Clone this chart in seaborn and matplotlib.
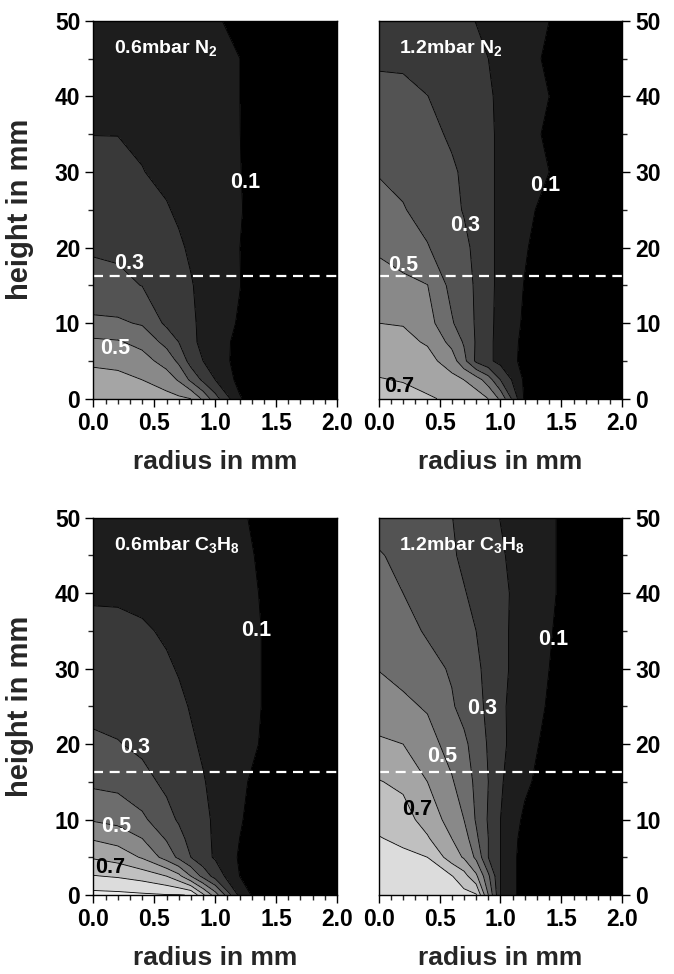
import numpy as np
import matplotlib
matplotlib.use("Agg")
import matplotlib.pyplot as plt
import seaborn as sns
from matplotlib.ticker import MultipleLocator, FormatStrFormatter

sns.set_style("ticks")
plt.rcParams['font.family'] = ['Liberation Sans', 'DejaVu Sans']
plt.rcParams['font.weight'] = 'bold'
plt.rcParams['mathtext.fontset'] = 'custom'
plt.rcParams['mathtext.rm'] = 'Liberation Sans:bold'
plt.rcParams['mathtext.bf'] = 'Liberation Sans:bold'

# grid: radius (mm) columns, height (mm) rows
radius = [0, 0.2, 0.4, 0.6, 0.7, 0.8, 0.9, 1.0, 1.2, 1.4, 1.6, 2.0]
height = [0, 2.5, 5, 7.5, 10, 15, 20, 25, 30, 35, 40, 45, 50]

n2_06 = [
    [0.67, 0.665, 0.655, 0.635, 0.62, 0.60, 0.48, 0.34, 0.11, 0.01, 0, 0],
    [0.63, 0.625, 0.60, 0.55, 0.49, 0.38, 0.28, 0.20, 0.07, 0, 0, 0],
    [0.585, 0.575, 0.54, 0.46, 0.38, 0.26, 0.20, 0.16, 0.06, 0, 0, 0],
    [0.52, 0.51, 0.47, 0.37, 0.30, 0.22, 0.18, 0.15, 0.07, 0.01, 0, 0],
    [0.42, 0.415, 0.39, 0.28, 0.25, 0.215, 0.18, 0.15, 0.09, 0.02, 0, 0],
    [0.33, 0.32, 0.298, 0.25, 0.23, 0.205, 0.18, 0.155, 0.103, 0.03, 0, 0],
    [0.29, 0.285, 0.26, 0.23, 0.21, 0.19, 0.17, 0.15, 0.101, 0.03, 0, 0],
    [0.27, 0.26, 0.24, 0.205, 0.19, 0.175, 0.165, 0.15, 0.11, 0.03, 0, 0],
    [0.25, 0.235, 0.202, 0.185, 0.178, 0.17, 0.16, 0.15, 0.105, 0.03, 0, 0],
    [0.198, 0.198, 0.19, 0.18, 0.175, 0.17, 0.16, 0.15, 0.102, 0.03, 0, 0],
    [0.19, 0.19, 0.185, 0.18, 0.175, 0.17, 0.16, 0.145, 0.101, 0.03, 0, 0],
    [0.18, 0.18, 0.175, 0.17, 0.165, 0.16, 0.15, 0.14, 0.101, 0.03, 0, 0],
    [0.17, 0.17, 0.165, 0.16, 0.155, 0.15, 0.14, 0.12, 0.05, 0.02, 0.01, 0],
]

n2_12 = [
    [0.74, 0.73, 0.71, 0.685, 0.67, 0.65, 0.60, 0.48, 0.08, 0.01, 0, 0],
    [0.705, 0.695, 0.67, 0.63, 0.60, 0.55, 0.45, 0.30, 0.08, 0.01, 0, 0],
    [0.67, 0.66, 0.635, 0.55, 0.43, 0.28, 0.22, 0.17, 0.07, 0.01, 0, 0],
    [0.63, 0.625, 0.59, 0.47, 0.39, 0.29, 0.22, 0.17, 0.075, 0.01, 0, 0],
    [0.60, 0.595, 0.54, 0.41, 0.35, 0.29, 0.22, 0.175, 0.085, 0.02, 0, 0],
    [0.53, 0.52, 0.502, 0.37, 0.33, 0.29, 0.22, 0.18, 0.095, 0.03, 0, 0],
    [0.49, 0.46, 0.405, 0.35, 0.32, 0.28, 0.22, 0.18, 0.11, 0.04, 0, 0],
    [0.43, 0.405, 0.37, 0.32, 0.295, 0.265, 0.22, 0.18, 0.13, 0.06, 0.01, 0],
    [0.395, 0.38, 0.35, 0.31, 0.29, 0.26, 0.22, 0.18, 0.145, 0.10, 0.02, 0],
    [0.35, 0.34, 0.32, 0.29, 0.27, 0.245, 0.215, 0.185, 0.14, 0.08, 0.01, 0],
    [0.32, 0.315, 0.301, 0.27, 0.255, 0.235, 0.21, 0.185, 0.14, 0.10, 0.02, 0],
    [0.29, 0.29, 0.27, 0.25, 0.235, 0.22, 0.20, 0.18, 0.14, 0.08, 0.01, 0],
    [0.27, 0.265, 0.25, 0.23, 0.215, 0.198, 0.185, 0.17, 0.14, 0.10, 0.02, 0],
]

c3h8_06 = [
    [0.93, 0.925, 0.915, 0.905, 0.905, 0.895, 0.72, 0.55, 0.17, 0.02, 0, 0],
    [0.805, 0.79, 0.76, 0.70, 0.63, 0.50, 0.37, 0.26, 0.10, 0.02, 0, 0],
    [0.69, 0.66, 0.59, 0.46, 0.38, 0.30, 0.23, 0.19, 0.09, 0.02, 0, 0],
    [0.59, 0.56, 0.50, 0.39, 0.33, 0.27, 0.22, 0.19, 0.10, 0.03, 0, 0],
    [0.49, 0.47, 0.42, 0.33, 0.29, 0.25, 0.215, 0.19, 0.11, 0.04, 0, 0],
    [0.38, 0.37, 0.33, 0.28, 0.255, 0.225, 0.205, 0.18, 0.12, 0.06, 0, 0],
    [0.32, 0.305, 0.28, 0.25, 0.23, 0.21, 0.19, 0.17, 0.135, 0.09, 0.01, 0],
    [0.27, 0.265, 0.255, 0.235, 0.215, 0.195, 0.18, 0.165, 0.14, 0.095, 0.01, 0],
    [0.25, 0.245, 0.235, 0.21, 0.195, 0.18, 0.17, 0.16, 0.14, 0.095, 0.01, 0],
    [0.23, 0.225, 0.21, 0.19, 0.18, 0.17, 0.16, 0.155, 0.14, 0.095, 0.01, 0],
    [0.185, 0.185, 0.18, 0.17, 0.165, 0.16, 0.155, 0.15, 0.135, 0.09, 0.01, 0],
    [0.17, 0.17, 0.165, 0.16, 0.158, 0.155, 0.15, 0.145, 0.13, 0.08, 0.01, 0],
    [0.16, 0.16, 0.155, 0.15, 0.148, 0.145, 0.14, 0.135, 0.125, 0.05, 0.01, 0],
]

c3h8_12 = [
    [0.88, 0.87, 0.86, 0.845, 0.83, 0.81, 0.50, 0.20, 0.05, 0.02, 0, 0],
    [0.86, 0.85, 0.83, 0.805, 0.74, 0.62, 0.42, 0.20, 0.05, 0.02, 0, 0],
    [0.84, 0.82, 0.80, 0.65, 0.59, 0.48, 0.30, 0.20, 0.05, 0.02, 0, 0],
    [0.805, 0.78, 0.71, 0.60, 0.55, 0.42, 0.30, 0.20, 0.06, 0.02, 0, 0],
    [0.77, 0.74, 0.66, 0.56, 0.50, 0.39, 0.29, 0.20, 0.08, 0.03, 0, 0],
    [0.705, 0.68, 0.60, 0.51, 0.45, 0.38, 0.30, 0.21, 0.12, 0.05, 0, 0],
    [0.62, 0.60, 0.54, 0.46, 0.42, 0.36, 0.29, 0.22, 0.14, 0.07, 0.01, 0],
    [0.53, 0.52, 0.49, 0.41, 0.37, 0.33, 0.28, 0.215, 0.15, 0.09, 0.02, 0],
    [0.498, 0.47, 0.43, 0.39, 0.355, 0.32, 0.27, 0.22, 0.16, 0.10, 0.03, 0],
    [0.46, 0.43, 0.39, 0.35, 0.325, 0.30, 0.26, 0.22, 0.16, 0.11, 0.04, 0],
    [0.43, 0.40, 0.38, 0.33, 0.305, 0.28, 0.25, 0.22, 0.165, 0.12, 0.05, 0],
    [0.405, 0.385, 0.36, 0.31, 0.285, 0.26, 0.235, 0.21, 0.16, 0.12, 0.05, 0],
    [0.375, 0.37, 0.35, 0.302, 0.275, 0.25, 0.225, 0.198, 0.16, 0.12, 0.05, 0],
]

levels = [0, 0.1, 0.2, 0.3, 0.4, 0.5, 0.6, 0.7, 0.8, 0.9, 1.0]
band_colors = ['#000000', '#1d1d1d', '#393939', '#535353', '#6d6d6d',
               '#898989', '#a5a5a5', '#c0c0c0', '#dcdcdc', '#ececec']

panel_titles = [r"0.6mbar N$_2$", r"1.2mbar N$_2$",
                r"0.6mbar C$_3$H$_8$", r"1.2mbar C$_3$H$_8$"]
panel_data = [n2_06, n2_12, c3h8_06, c3h8_12]

# contour labels: (radius, height, text, colour)
n2_06_labels = [(1.25, 28.6, "0.1", "white"), (0.29, 17.9, "0.3", "white"),
                (0.18, 6.7, "0.5", "white")]
n2_12_labels = [(1.37, 28.2, "0.1", "white"), (0.71, 22.9, "0.3", "white"),
                (0.20, 17.6, "0.5", "white"), (0.17, 1.6, "0.7", "black")]
c3h8_06_labels = [(1.34, 35.0, "0.1", "white"), (0.34, 19.6, "0.3", "white"),
                  (0.19, 9.1, "0.5", "white"), (0.14, 3.6, "0.7", "black")]
c3h8_12_labels = [(1.43, 33.8, "0.1", "white"), (0.85, 24.7, "0.3", "white"),
                  (0.52, 18.4, "0.5", "white"), (0.32, 11.3, "0.7", "black")]
panel_labels = [n2_06_labels, n2_12_labels, c3h8_06_labels, c3h8_12_labels]

jet_height = 16.3

fig = plt.figure(figsize=(6.74, 9.74), dpi=100)
positions = [(0.1387, 0.5906, 0.3613, 0.3881), (0.5619, 0.5906, 0.3613, 0.3881),
             (0.1387, 0.0811, 0.3613, 0.3874), (0.5619, 0.0811, 0.3613, 0.3874)]

for i, pos in enumerate(positions):
    ax = fig.add_axes(pos)
    field = np.array(panel_data[i])
    ax.contourf(radius, height, field, levels=levels, colors=band_colors)
    ax.contour(radius, height, field, levels=levels[1:-1], colors='black',
               linewidths=0.6)
    ax.axhline(jet_height, color='white', lw=1.6, dashes=(4.5, 3))

    ax.text(0.17, 46.3, panel_titles[i], color='white', fontsize=14,
            fontweight='bold', va='center', ha='left')
    for x, y, t, c in panel_labels[i]:
        ax.text(x, y, t, color=c, fontsize=15.5, fontweight='bold',
                ha='center', va='center')

    ax.set_xlim(0, 2)
    ax.set_ylim(0, 50)
    ax.xaxis.set_major_locator(MultipleLocator(0.5))
    ax.xaxis.set_minor_locator(MultipleLocator(0.1))
    ax.yaxis.set_major_locator(MultipleLocator(10))
    ax.yaxis.set_minor_locator(MultipleLocator(5))
    ax.xaxis.set_major_formatter(FormatStrFormatter('%.1f'))
    ax.tick_params(which='major', direction='out', length=6, width=1,
                   labelsize=16.5, colors='black', pad=3.5)
    ax.tick_params(which='minor', direction='out', length=3.5, width=1)
    for lab in ax.get_xticklabels() + ax.get_yticklabels():
        lab.set_fontweight('bold')
    for s in ax.spines.values():
        s.set_linewidth(1)
        s.set_color('black')

    ax.set_xlabel("radius in mm", fontsize=19, fontweight='bold', labelpad=11)
    if i % 2 == 0:
        ax.set_ylabel("height in mm", fontsize=21, fontweight='bold')
        ax.yaxis.set_label_coords(-0.245, 0.5)
    else:
        ax.yaxis.tick_right()
        ax.tick_params(which='both', left=False, right=True)

fig.savefig("out.png", dpi=100)
